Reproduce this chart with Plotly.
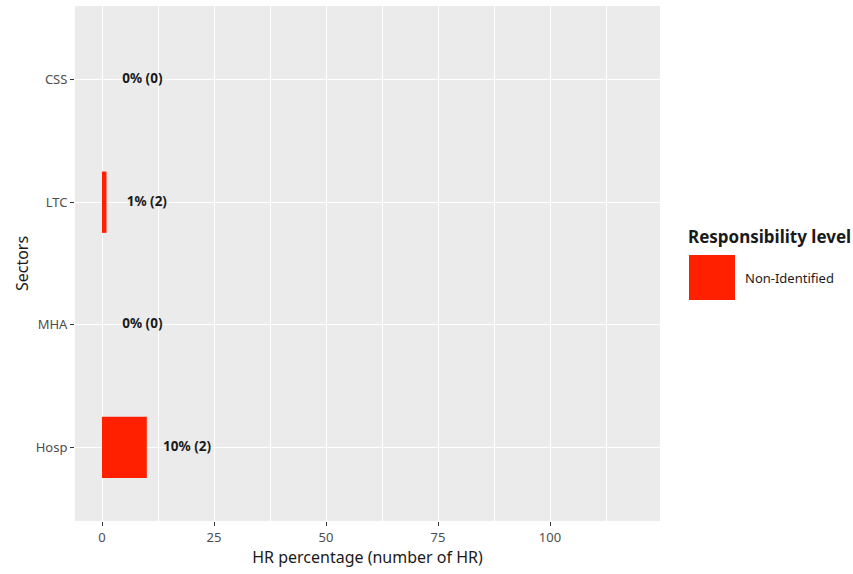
import plotly.graph_objects as go

sectors = ["Hosp", "MHA", "LTC", "CSS"]
percentages = [10, 0, 1, 0]
counts = [2, 0, 2, 0]
legend_label = "Non-Identified"
legend_title = "Responsibility level"
x_ticks = [0, 25, 50, 75, 100]

BAR = "#FF2000"
FONT = "'Noto Sans', 'Open Sans', sans-serif"

labels = [f"{p}% ({c})" for p, c in zip(percentages, counts)]
label_x = [p + 9 for p in percentages]

fig = go.Figure()
fig.add_trace(go.Bar(
    y=sectors, x=percentages, orientation="h", width=0.5,
    marker=dict(color=BAR, line=dict(width=0)), name=legend_label,
    showlegend=False, hoverinfo="skip",
))
fig.add_trace(go.Scatter(
    y=sectors, x=label_x, mode="text", text=labels,
    textposition="middle center",
    textfont=dict(family=FONT, size=13.5, color="#1a1a1a", weight="bold"),
    showlegend=False, hoverinfo="skip",
))

fig.update_layout(
    width=853, height=574,
    margin=dict(l=75, r=193, t=6, b=53),
    paper_bgcolor="white", plot_bgcolor="#EBEBEB",
    font=dict(family=FONT, color="#4D4D4D"),
    bargap=0.5,
    xaxis=dict(
        range=[-6.03, 124.55], tickvals=x_ticks, ticktext=[str(v) for v in x_ticks],
        showgrid=True, gridcolor="white", gridwidth=1.1, zeroline=False,
        ticks="outside", ticklen=4, tickcolor="#333333", tickwidth=1.1,
        tickfont=dict(size=13, color="#4D4D4D"),
        minor=dict(tickvals=[12.5, 37.5, 62.5, 87.5, 112.5], showgrid=True,
                   gridcolor="white", gridwidth=0.55, ticks=""),
        title=dict(text="HR percentage (number of HR)", font=dict(size=16, color="#1a1a1a"), standoff=4),
        showline=False,
    ),
    yaxis=dict(
        categoryorder="array", categoryarray=sectors, range=[-0.6, 3.6],
        showgrid=True, gridcolor="white", gridwidth=1.1, zeroline=False,
        ticks="outside", ticklen=4, tickcolor="#333333", tickwidth=1.1,
        tickfont=dict(size=13, color="#4D4D4D"),
        title=dict(text="Sectors", font=dict(size=16, color="#1a1a1a"), standoff=3),
        showline=False,
    ),
    showlegend=False,
)

# Legend drawn manually (ggplot-style large key)
fig.add_shape(type="rect", xref="paper", yref="paper",
              x0=(689 - 75) / 585, x1=(735 - 75) / 585,
              y0=(521 - 300) / 515, y1=(521 - 255) / 515,
              fillcolor=BAR, line=dict(width=0))
fig.add_annotation(xref="paper", yref="paper", x=(686 - 75) / 585, y=(521 - 236) / 515,
                   text=f"<b>{legend_title}</b>", showarrow=False, xanchor="left", yanchor="middle",
                   font=dict(family=FONT, size=17, color="#1a1a1a"))
fig.add_annotation(xref="paper", yref="paper", x=(743 - 75) / 585, y=(521 - 278) / 515,
                   text=legend_label, showarrow=False, xanchor="left", yanchor="middle",
                   font=dict(family=FONT, size=13, color="#1a1a1a"))

fig.write_html("out.html", config={"displayModeBar": False},
               post_script="document.body.style.margin='0px';")
